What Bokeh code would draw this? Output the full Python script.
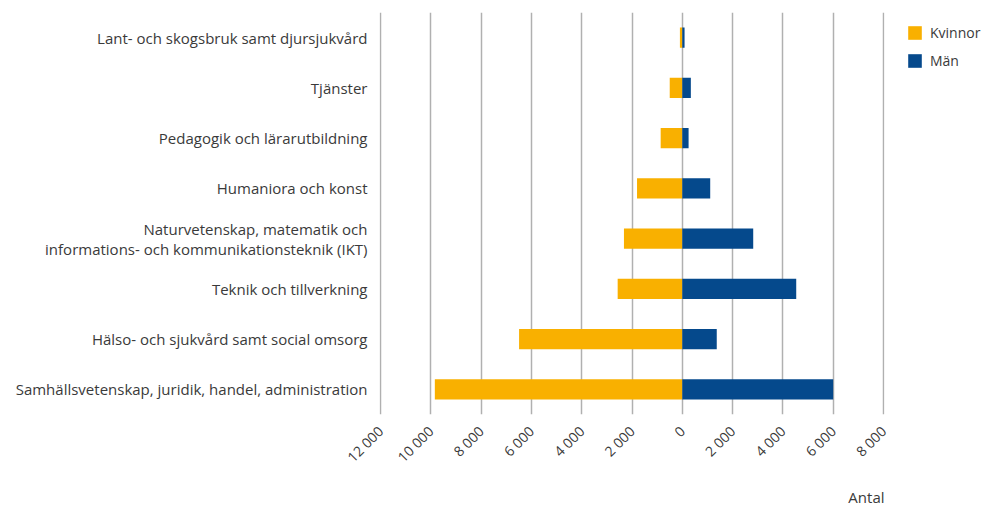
from bokeh.plotting import figure
from bokeh.models import FactorRange, FixedTicker, Legend, LegendItem, Title, ColumnDataSource
from bokeh.embed import file_html
from bokeh.resources import INLINE
import math

categories = [
    "Samhällsvetenskap, juridik, handel, administration",
    "Hälso- och sjukvård samt social omsorg",
    "Teknik och tillverkning",
    "Naturvetenskap, matematik och\ninformations- och kommunikationsteknik (IKT)",
    "Humaniora och konst",
    "Pedagogik och lärarutbildning",
    "Tjänster",
    "Lant- och skogsbruk samt djursjukvård",
]
kvinnor = [9840, 6490, 2570, 2320, 1800, 860, 500, 95]
man = [6000, 1370, 4530, 2820, 1110, 250, 340, 90]

tick_values = [-12000, -10000, -8000, -6000, -4000, -2000, 0, 2000, 4000, 6000, 8000]
tick_labels = ["12 000", "10 000", "8 000", "6 000", "4 000", "2 000",
               "0", "2 000", "4 000", "6 000", "8 000"]

FONT = "Open Sans"
TXT = "#3a3a3a"
C_K = "#F9B000"
C_M = "#05498C"

src = ColumnDataSource(dict(
    cat=categories,
    kl=[-v for v in kvinnor],
    mr=man,
    zero=[0] * len(categories),
))

p = figure(frame_width=505, frame_height=402, y_range=FactorRange(*categories),
           x_range=(-12040, 8040),
           output_backend="svg", toolbar_location=None,
           min_border_left=379, min_border_top=12, min_border_right=101, min_border_bottom=91)

rk = p.hbar(y="cat", left="kl", right="zero", height=0.4, color=C_K, line_color=None, source=src)
rm = p.hbar(y="cat", left="zero", right="mr", height=0.4, color=C_M, line_color=None, source=src)

p.outline_line_color = None
p.ygrid.grid_line_color = None
p.xgrid.grid_line_color = "#b0b0b0"
p.xgrid.grid_line_width = 1.5
p.xgrid.ticker = FixedTicker(ticks=tick_values)
p.xaxis.ticker = FixedTicker(ticks=tick_values)
p.xaxis.major_label_overrides = {v: l for v, l in zip(tick_values, tick_labels)}
p.xaxis.major_label_orientation = math.pi / 4
p.xaxis.axis_line_color = None
p.xaxis.major_tick_line_color = None
p.xaxis.minor_tick_line_color = None
p.xaxis.major_label_text_font = FONT
p.xaxis.major_label_text_font_size = "14px"
p.xaxis.major_label_text_color = TXT
p.xaxis.major_label_standoff = 8

p.yaxis.axis_line_color = None
p.yaxis.major_tick_line_color = None
p.yaxis.minor_tick_line_color = None
p.yaxis.major_tick_out = 0
p.yaxis.major_tick_in = 0
p.yaxis.major_label_text_font = FONT
p.yaxis.major_label_text_font_size = "15px"
p.yaxis.major_label_text_color = TXT
p.yaxis.major_label_text_line_height = 1.0
p.yaxis.major_label_standoff = 12

p.add_layout(Title(text="Antal", align="right", text_font=FONT, text_font_size="15px",
                   text_color=TXT, text_font_style="normal", offset=0, standoff=18), "below")

legend = Legend(items=[LegendItem(label="Kvinnor", renderers=[rk]),
                       LegendItem(label="Män", renderers=[rm])],
                location=(22, 344), label_text_font=FONT, label_text_font_size="14px",
                label_text_color=TXT, glyph_width=17, glyph_height=17, label_height=17,
                spacing=9, border_line_color=None, background_fill_alpha=0, margin=0,
                padding=0, label_standoff=7)
p.add_layout(legend, "right")

open("out.html", "w").write(file_html(p, INLINE))
